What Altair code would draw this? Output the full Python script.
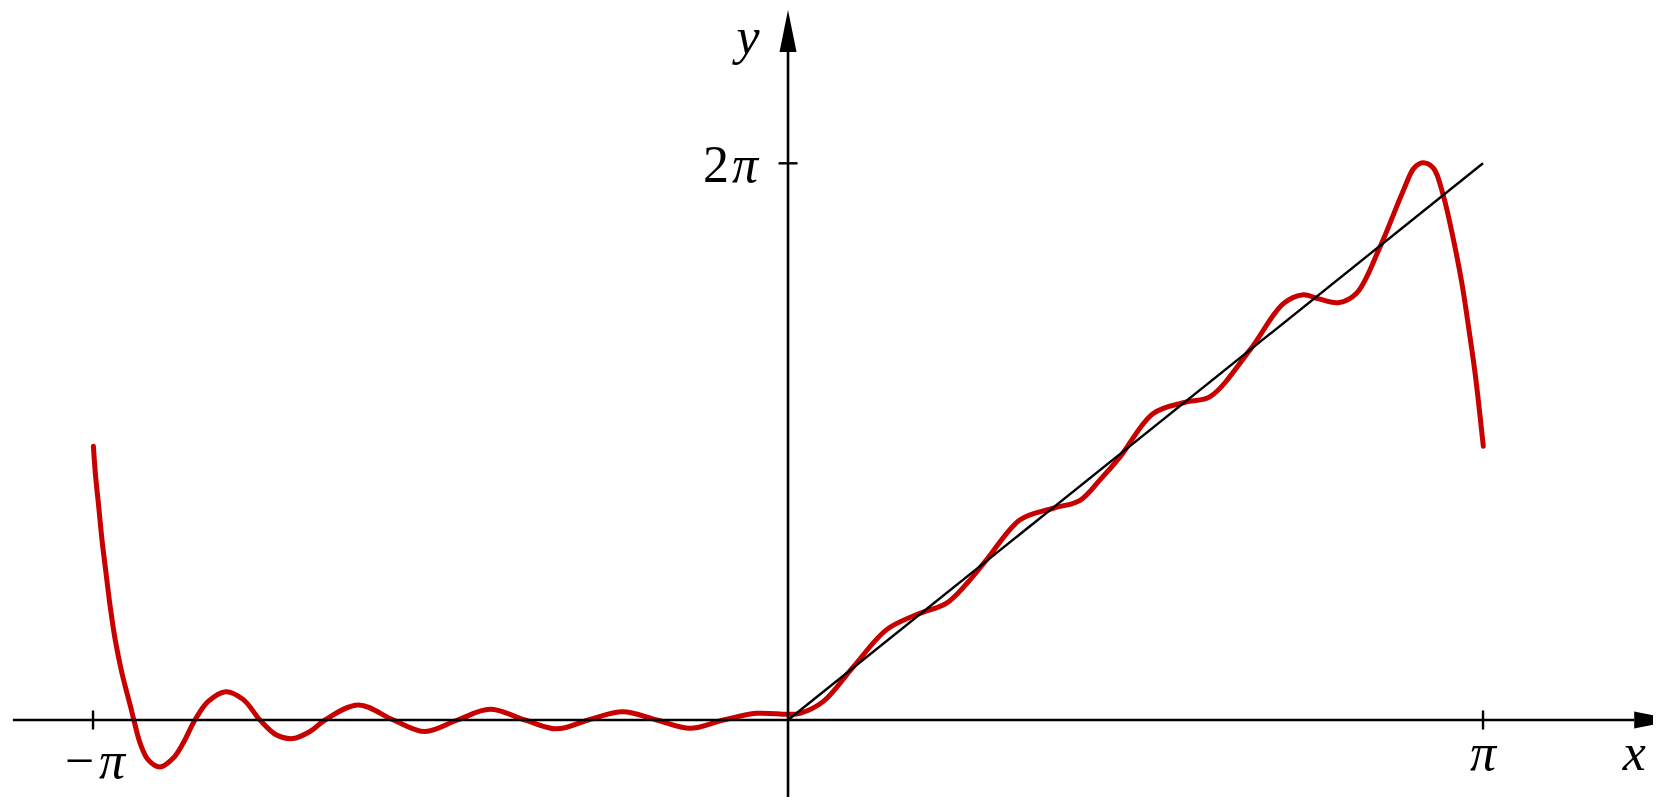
import altair as alt
import pandas as pd

PI = 3.141593

# Red curve: partial Fourier sum
red_x = [-3.140, -3.131, -3.116, -3.101, -3.083, -3.064, -3.041, -3.011, -2.972, -2.957,
         -2.929, -2.892, -2.839, -2.779, -2.734, -2.681, -2.621, -2.541, -2.462, -2.387,
         -2.312, -2.239, -2.161, -2.093, -1.943, -1.784, -1.641, -1.494, -1.347, -1.189,
         -1.046, -0.903, -0.747, -0.594, -0.443, -0.292, -0.142, 0.000, 0.054, 0.160,
         0.295, 0.446, 0.582, 0.717, 0.808, 0.898, 1.049, 1.199, 1.320, 1.410,
         1.501, 1.651, 1.802, 1.908, 2.089, 2.239, 2.330, 2.390, 2.488, 2.571,
         2.676, 2.782, 2.830, 2.869, 2.917, 2.963, 3.008, 3.046, 3.076, 3.106,
         3.143]
red_y = [3.09, 2.78, 2.41, 2.03, 1.66, 1.28, 0.90, 0.53, 0.15, 0.00,
         -0.26, -0.45, -0.53, -0.43, -0.26, 0.00, 0.21, 0.32, 0.23, 0.00,
         -0.17, -0.21, -0.13, 0.00, 0.17, 0.00, -0.13, 0.00, 0.12, 0.00,
         -0.10, 0.00, 0.094, 0.00, -0.094, 0.00, 0.075, 0.064, 0.075, 0.21,
         0.60, 1.02, 1.19, 1.32, 1.54, 1.81, 2.26, 2.39, 2.48, 2.71,
         2.97, 3.46, 3.59, 3.65, 4.18, 4.70, 4.80, 4.76, 4.71, 4.82,
         5.34, 5.98, 6.23, 6.29, 6.23, 5.91, 5.42, 4.93, 4.44, 3.91,
         3.09]

# Black straight line f(x) = 2x on [0, pi]
line_x = [0.0, PI]
line_y = [0.0, 2 * PI]

# Axes (extent of the drawn axis lines, in data units)
x_axis_span = [-3.504, 3.825]
y_axis_span = [-1.0, 7.54]

# Ticks
x_ticks = [-PI, PI]
y_ticks = [2 * PI]

X = alt.Scale(domain=[-3.526, 3.910], nice=False, zero=False)
Y = alt.Scale(domain=[-0.869, 8.036], nice=False, zero=False)

def xe(f="x"):
    return alt.X(f"{f}:Q", scale=X, axis=None)

def ye(f="y"):
    return alt.Y(f"{f}:Q", scale=Y, axis=None)

red = alt.Chart(pd.DataFrame({"x": red_x, "y": red_y})).mark_line(
    color="#c80000", strokeWidth=5, strokeCap="round", strokeJoin="round",
    interpolate="catmull-rom", clip=False
).encode(x=xe(), y=ye())

diag = alt.Chart(pd.DataFrame({"x": line_x, "y": line_y})).mark_line(
    color="black", strokeWidth=2.4
).encode(x=xe(), y=ye())

xaxis = alt.Chart(pd.DataFrame({"x": [x_axis_span[0]], "x2": [x_axis_span[1]], "y": [0.0]})).mark_rule(
    color="black", strokeWidth=2.6
).encode(x=xe(), x2="x2:Q", y=ye())

yaxis = alt.Chart(pd.DataFrame({"x": [0.0], "y": [y_axis_span[0]], "y2": [y_axis_span[1]]})).mark_rule(
    color="black", strokeWidth=2.6
).encode(x=xe(), y=ye(), y2="y2:Q")

xtick = alt.Chart(pd.DataFrame({"x": x_ticks, "y": [0.0] * len(x_ticks)})).mark_point(
    shape="M0,-1L0,1", size=361, stroke="black", strokeWidth=2.4, filled=False, opacity=1
).encode(x=xe(), y=ye())

ytick = alt.Chart(pd.DataFrame({"x": [0.0] * len(y_ticks), "y": y_ticks})).mark_point(
    shape="M-1,0L1,0", size=361, stroke="black", strokeWidth=2.4, filled=False, opacity=1
).encode(x=xe(), y=ye())

xarrow = alt.Chart(pd.DataFrame({"x": [x_axis_span[1]], "y": [0.0]})).mark_point(
    shape="M0,-0.405L2,0L0,0.405Z", size=1764, filled=True, color="black", opacity=1, strokeWidth=0
).encode(x=xe(), y=ye())

yarrow = alt.Chart(pd.DataFrame({"x": [0.0], "y": [y_axis_span[1]]})).mark_point(
    shape="M-0.405,0L0,-2L0.405,0Z", size=1764, filled=True, color="black", opacity=1, strokeWidth=0
).encode(x=xe(), y=ye())

FONT = "Liberation Serif"
FS = 52

def label(xv, yv, text, style="italic", align="center", dx=0, dy=0):
    return alt.Chart(pd.DataFrame({"x": [xv], "y": [yv], "t": [text]})).mark_text(
        font=FONT, fontSize=FS, fontStyle=style, align=align, baseline="alphabetic",
        dx=dx, dy=dy, color="black"
    ).encode(x=xe(), y=ye(), text="t:N")

labels = [
    label(x_ticks[0], 0.0, "−", style="normal", align="right", dx=1, dy=58),
    label(x_ticks[0], 0.0, "π", align="left", dx=6, dy=58),
    label(x_ticks[1], 0.0, "π", align="center", dy=50),
    label(0.0, y_ticks[0], "2", style="normal", align="right", dx=-59, dy=19),
    label(0.0, y_ticks[0], "π", align="right", dx=-30, dy=19),
    label(x_axis_span[1], 0.0, "x", align="center", dy=50),
    label(0.0, y_axis_span[1], "y", align="center", dx=-40, dy=2),
]

chart = alt.layer(red, xaxis, yaxis, diag, xtick, ytick, xarrow, yarrow, *labels).properties(
    width=1645, height=789,
    autosize=alt.AutoSizeParams(type="none"),
    padding=0,
    view=alt.ViewBackground(strokeWidth=0, strokeOpacity=0),
).configure_view(strokeWidth=0, strokeOpacity=0).configure(background="white")

chart.save("out.html", embed_options={"renderer": "svg", "actions": False})
